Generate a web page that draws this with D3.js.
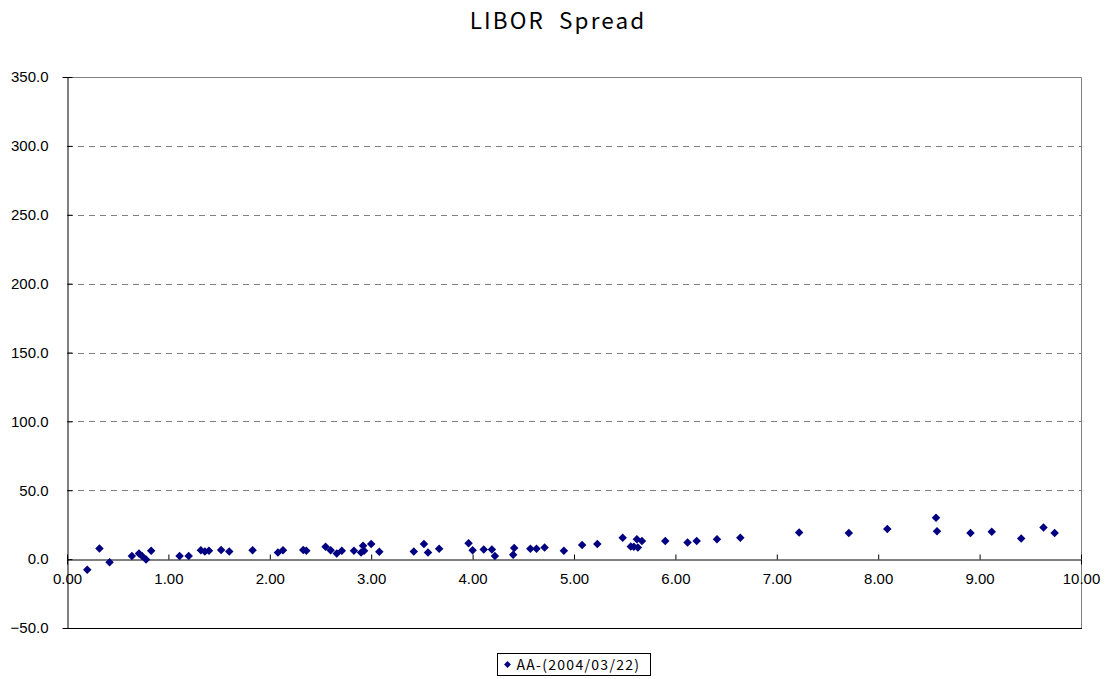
<!DOCTYPE html>
<html>
<head>
<meta charset="utf-8">
<script src="https://cdn.jsdelivr.net/npm/d3@7"></script>
<style>
  html, body { margin: 0; padding: 0; background: #fff; }
  svg { display: block; }
</style>
</head>
<body>
<svg id="chart" width="1105" height="679"></svg>
<script>
// Years to maturity
const tenor = [0.20, 0.32, 0.42, 0.64, 0.71, 0.74, 0.78, 0.83, 1.11, 1.20,
  1.32, 1.36, 1.40, 1.52, 1.60, 1.83, 2.08, 2.13, 2.33, 2.36,
  2.55, 2.60, 2.66, 2.71, 2.83, 2.90, 2.92, 2.93, 3.00, 3.08,
  3.42, 3.52, 3.56, 3.67, 3.96, 4.00, 4.11, 4.19, 4.22, 4.40,
  4.41, 4.57, 4.63, 4.71, 4.90, 5.08, 5.23, 5.48, 5.56, 5.59,
  5.62, 5.63, 5.67, 5.90, 6.12, 6.21, 6.41, 6.64, 7.22, 7.71,
  8.09, 8.57, 8.58, 8.91, 9.12, 9.41, 9.63, 9.74];
// Spread over LIBOR (bp)
const spread = [-7.8, 7.7, -2.2, 2.2, 4.1, 2.2, -0.3, 6.0, 2.2, 2.2,
  6.5, 5.5, 6.0, 6.7, 5.5, 6.5, 4.8, 6.5, 6.7, 6.0,
  8.9, 6.5, 4.1, 6.0, 6.0, 4.8, 9.7, 6.0, 10.9, 5.3,
  5.5, 10.9, 4.8, 7.5, 11.6, 6.5, 7.0, 7.0, 2.2, 3.1,
  8.0, 7.5, 7.5, 8.4, 6.0, 10.2, 10.9, 15.5, 9.2, 9.0,
  14.5, 8.4, 13.1, 13.1, 12.1, 13.1, 14.5, 15.5, 19.3, 18.9,
  21.8, 30.0, 20.3, 18.9, 19.8, 15.0, 23.0, 18.9];

const xTicks = [0, 1, 2, 3, 4, 5, 6, 7, 8, 9, 10];
const yTicks = [-50, 0, 50, 100, 150, 200, 250, 300, 350];
const seriesName = "AA-(2004/03/22)";
const chartTitle = "LIBOR\u00a0\u00a0Spread";

const svg = d3.select("#chart");
const plot = { left: 67, right: 1081, top: 77, bottom: 628 };

const x = d3.scaleLinear().domain([0, 10]).range([plot.left, plot.right]);
const y = d3.scaleLinear().domain([-50, 350]).range([plot.bottom, plot.top]);

const numFont = "'Liberation Sans', Arial, sans-serif";
const jpFont = "'Noto Sans CJK JP', 'Liberation Sans', sans-serif";

// Title
svg.append("text")
  .attr("x", 558).attr("y", 29)
  .attr("text-anchor", "middle")
  .attr("font-family", jpFont)
  .attr("font-size", 22.5)
  .attr("letter-spacing", 2.1)
  .attr("fill", "#000")
  .text(chartTitle);

// Dashed gridlines
svg.append("g")
  .selectAll("line")
  .data(yTicks.filter(v => v > 0 && v < 350))
  .join("line")
  .attr("x1", plot.left).attr("x2", plot.right)
  .attr("y1", d => Math.round(y(d)) + 0.5).attr("y2", d => Math.round(y(d)) + 0.5)
  .attr("stroke", "#808080")
  .attr("stroke-width", 1)
  .attr("stroke-dasharray", "6,5");

// Plot frame: top and right in gray, bottom in black
svg.append("path")
  .attr("d", `M${plot.left},${Math.round(y(350)) + 0.5}H${plot.right + 0.5}V${plot.bottom}`)
  .attr("fill", "none").attr("stroke", "#808080");
svg.append("line")
  .attr("x1", plot.left).attr("x2", plot.right + 1)
  .attr("y1", Math.round(y(-50)) + 0.5).attr("y2", Math.round(y(-50)) + 0.5)
  .attr("stroke", "#000");

// Y axis
const yAxis = d3.axisLeft(y)
  .tickValues(yTicks)
  .tickSize(5)
  .tickPadding(14)
  .tickFormat(d3.format(".1f"));
const gy = svg.append("g")
  .attr("transform", `translate(${plot.left + 0.5},0)`)
  .call(yAxis);
gy.select(".domain").attr("stroke", "#000");
gy.selectAll(".tick line").attr("x2", 5).attr("x1", 0).attr("stroke", "#000");
gy.selectAll(".tick text")
  .attr("font-family", numFont)
  .attr("font-size", 15)
  .attr("fill", "#000")
  .attr("x", -19);

// X axis sitting on the zero line
const xAxis = d3.axisBottom(x)
  .tickValues(xTicks)
  .tickSize(5)
  .tickFormat(d3.format(".2f"));
const gx = svg.append("g")
  .attr("transform", `translate(0,${Math.round(y(0)) + 0.5})`)
  .call(xAxis);
gx.select(".domain").attr("stroke", "#000");
gx.selectAll(".tick line").attr("y1", 0).attr("y2", -5).attr("stroke", "#000");
gx.selectAll(".tick text")
  .attr("font-family", numFont)
  .attr("font-size", 15)
  .attr("fill", "#000")
  .attr("y", 14);

// Diamond markers
const diamond = d3.symbol().type(d3.symbolDiamond2).size(46);
svg.append("g")
  .selectAll("path")
  .data(tenor.map((t, i) => [t, spread[i]]))
  .join("path")
  .attr("transform", d => `translate(${x(d[0])},${y(d[1])})`)
  .attr("d", diamond)
  .attr("fill", "#000080");

// Legend
const lg = svg.append("g").attr("transform", "translate(497.5,653.5)");
lg.append("rect")
  .attr("width", 153).attr("height", 22)
  .attr("fill", "#fff").attr("stroke", "#000");
lg.append("path")
  .attr("transform", "translate(10,11)")
  .attr("d", d3.symbol().type(d3.symbolDiamond2).size(30))
  .attr("fill", "#000080");
lg.append("text")
  .attr("x", 19).attr("y", 16)
  .attr("font-family", jpFont)
  .attr("font-size", 14)
  .attr("letter-spacing", 1.3)
  .attr("fill", "#000")
  .text(seriesName);
</script>
</body>
</html>
